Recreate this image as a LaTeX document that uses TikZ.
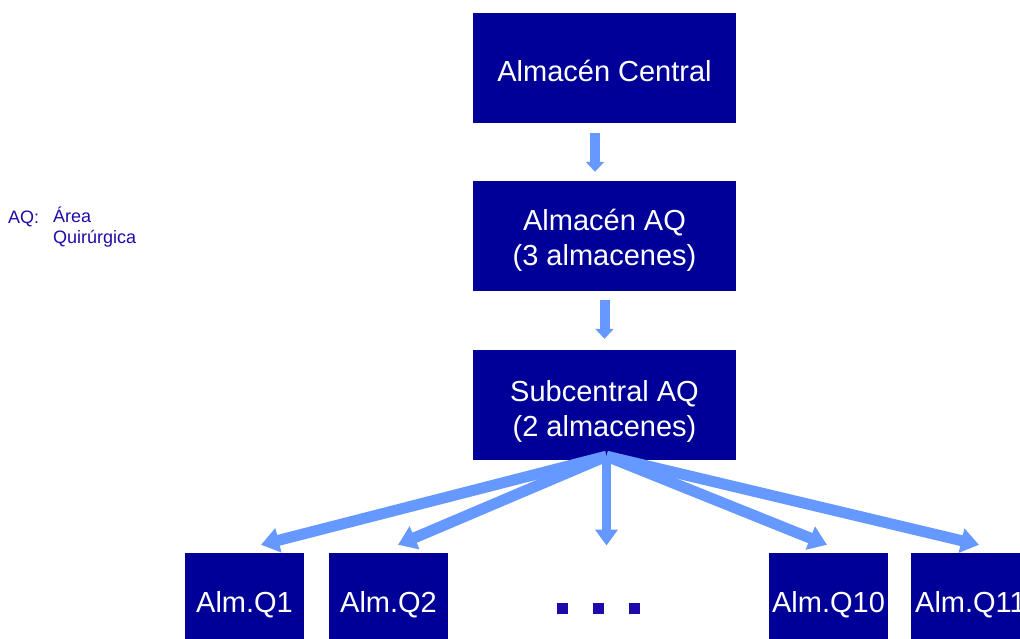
\documentclass[tikz,border=0pt]{standalone}
\usepackage{fontspec}
\setmainfont{Liberation Sans}
\usetikzlibrary{arrows.meta,calc}
\definecolor{boxblue}{RGB}{0,0,153}
\definecolor{arrowblue}{RGB}{102,153,255}
\definecolor{noteblue}{RGB}{30,10,170}
% text lines set at a given baseline drop from the box centre
\newcommand{\boxlines}[2]{\raisebox{#1}[0pt][0pt]{\begin{tabular}[t]{@{}c@{}}#2\end{tabular}}}
\begin{document}
\begin{tikzpicture}[x=1pt,y=-1pt,
  store/.style={fill=boxblue,text=white,inner sep=0pt,minimum width=263pt,minimum height=110pt,font=\fontsize{29}{35}\selectfont},
  leaf/.style={fill=boxblue,text=white,inner sep=0pt,minimum width=119pt,minimum height=104pt,font=\fontsize{29}{35}\selectfont},
  note/.style={text=noteblue,inner sep=0pt,font=\fontsize{18}{21}\selectfont},
  thin arrow/.style={draw=arrowblue,line width=10pt,-{Triangle[length=10pt,width=18pt]}},
  fat arrow/.style={draw=arrowblue,line width=11pt,-{Triangle[length=18pt,width=24pt]}}]
\useasboundingbox (0,0) rectangle (1020,639);
\clip (0,0) rectangle (1020,639);

%stores
\node[store] (central) at (604.5,68) {\boxlines{-14pt}{Almac\'en Central}};
\node[store] (aq) at (604.5,236) {\boxlines{5pt}{Almac\'en AQ\\(3 almacenes)}};
\node[store] (sub) at (604.5,405) {\boxlines{4pt}{Subcentral AQ\\(2 almacenes)}};

%key
\node[note,anchor=base west] (aqkey) at (8,224) {AQ:};
\node[note,anchor=north west,align=left] (aqtext) at (53,207) {\'Area\\Quir\'urgica};

%bottom row
\node[leaf] (q1) at (244.5,605) {Alm.Q1};
\node[leaf] (q2) at (388.5,605) {Alm.Q2};
\node[leaf] (q10) at (828.5,605) {Alm.Q10};
\node[leaf] (q11) at (970.5,605) {Alm.Q11};
\coordinate (dots) at (598.5,608.5);
\foreach \dx in {-36,0,36}
  \fill[noteblue] ($(dots)+(\dx-5.5,-5.5)$) rectangle ++(11,11);

%arrows
\draw[thin arrow] ($(central.south)+(-9.5,10)$) -- ($(aq.north)+(-9.5,-9)$);
\draw[thin arrow] ($(aq.south)+(0,9)$) -- ($(sub.north)+(0,-11)$);
\coordinate (hub) at ($(sub.south)+(2,-4)$);
\draw[fat arrow] (hub) -- ($(q1.north)+(16.5,-8)$);
\draw[fat arrow] (hub) -- ($(q2.north)+(9.5,-8)$);
\draw[thin arrow,line width=9pt,-{Triangle[length=16pt,width=22pt]}] (hub) -- ($(dots)+(8,-63)$);
\draw[fat arrow] (hub) -- ($(q10.north)+(-1.5,-8)$);
\draw[fat arrow] (hub) -- ($(q11.north)+(8.5,-8)$);
\end{tikzpicture}
\end{document}
